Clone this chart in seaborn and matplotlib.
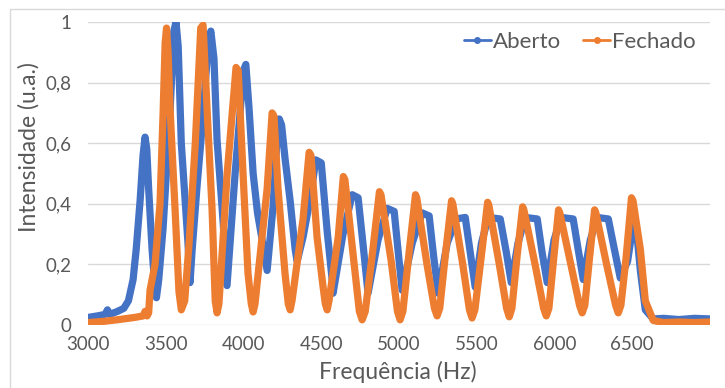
import matplotlib
matplotlib.use("Agg")
import matplotlib.pyplot as plt
import seaborn as sns
import pandas as pd
from matplotlib.lines import Line2D
from matplotlib.patches import Rectangle

# ---------------- data ----------------
series_names = ["Aberto", "Fechado"]

aberto_freq = [3000, 3060, 3110, 3125, 3140, 3190, 3230, 3260, 3290, 3310, 3335, 3354, 3367, 3378,
               3390, 3412, 3431, 3440, 3455, 3483, 3528, 3552, 3566, 3580, 3600, 3643, 3656, 3670, 3700,
               3733, 3775, 3790, 3810, 3830, 3869, 3894, 3946, 4000, 4015, 4035, 4062, 4090, 4120, 4152, 4190,
               4215, 4230, 4245, 4267, 4300, 4332, 4345, 4383, 4430, 4465, 4500, 4538, 4570, 4576, 4640,
               4699, 4737, 4770, 4801, 4865, 4924, 4969, 4995, 5020, 5085, 5149, 5194, 5222, 5252,
               5310, 5368, 5426, 5458, 5490, 5530, 5574, 5651, 5690, 5722, 5765, 5812, 5889, 5920,
               5953, 5997, 6043, 6120, 6152, 6185, 6230, 6275, 6346, 6385, 6423, 6470, 6505, 6530,
               6552, 6584, 6635, 6700, 6800, 6900, 7000]
aberto_val = [0.025, 0.03, 0.035, 0.05, 0.035, 0.045, 0.055, 0.08, 0.15, 0.25, 0.41, 0.56, 0.62, 0.58,
              0.45, 0.25, 0.12, 0.09, 0.15, 0.32, 0.71, 0.97, 1.0, 0.92, 0.6, 0.27, 0.14, 0.25, 0.45,
              0.65, 0.94, 0.97, 0.88, 0.61, 0.34, 0.13, 0.5, 0.84, 0.86, 0.72, 0.5, 0.37, 0.28, 0.18, 0.39,
              0.61, 0.68, 0.66, 0.55, 0.41, 0.25, 0.21, 0.29, 0.42, 0.545, 0.535, 0.31, 0.15, 0.105, 0.30,
              0.43, 0.42, 0.26, 0.105, 0.28, 0.385, 0.375, 0.24, 0.115, 0.27, 0.37, 0.36, 0.23, 0.105,
              0.27, 0.35, 0.355, 0.24, 0.125, 0.27, 0.355, 0.35, 0.24, 0.14, 0.27, 0.355, 0.35, 0.24,
              0.14, 0.28, 0.355, 0.35, 0.25, 0.15, 0.28, 0.355, 0.35, 0.25, 0.155, 0.21, 0.33, 0.3,
              0.18, 0.05, 0.02, 0.022, 0.018, 0.022, 0.02]

fechado_freq = [3000, 3100, 3200, 3300, 3355, 3367, 3380, 3390, 3399, 3431, 3463, 3483, 3496, 3505,
                3515, 3528, 3560, 3585, 3600, 3622, 3650, 3690, 3725, 3740, 3766, 3798, 3818, 3830, 3842,
                3895, 3952, 3966, 3997, 4029, 4050, 4062, 4074, 4152, 4184, 4196, 4222, 4267, 4288, 4300,
                4312, 4383, 4422, 4434, 4473, 4512, 4526, 4538, 4550, 4609, 4642, 4652, 4699, 4745, 4763,
                4783, 4830, 4874, 4884, 4950, 4990, 5007, 5025, 5065, 5106, 5114, 5180, 5228, 5245, 5262,
                5300, 5338, 5346, 5410, 5453, 5470, 5488, 5530, 5570, 5578, 5645, 5692, 5709, 5726, 5760,
                5795, 5803, 5875, 5930, 5947, 5964, 5995, 6026, 6034, 6105, 6161, 6178, 6195, 6225, 6258,
                6266, 6335, 6393, 6410, 6427, 6460, 6495, 6505, 6552, 6584, 6635, 6700, 6800, 6900, 7000]
fechado_val = [0.008, 0.012, 0.018, 0.025, 0.03, 0.045, 0.03, 0.04, 0.115, 0.2, 0.4, 0.7, 0.93, 0.98,
               0.9, 0.71, 0.38, 0.11, 0.05, 0.08, 0.27, 0.6, 0.98, 0.99, 0.71, 0.38, 0.08, 0.04, 0.07,
               0.5, 0.85, 0.84, 0.5, 0.17, 0.07, 0.043, 0.07, 0.45, 0.70, 0.69, 0.45, 0.17, 0.07, 0.05,
               0.08, 0.35, 0.57, 0.56, 0.29, 0.125, 0.07, 0.05, 0.08, 0.29, 0.49, 0.48, 0.26, 0.045, 0.017,
               0.045, 0.24, 0.44, 0.43, 0.21, 0.045, 0.017, 0.045, 0.24, 0.43, 0.42, 0.2, 0.055, 0.03, 0.055,
               0.24, 0.41, 0.40, 0.2, 0.05, 0.023, 0.05, 0.23, 0.405, 0.395, 0.2, 0.055, 0.027, 0.055, 0.23,
               0.39, 0.38, 0.2, 0.055, 0.03, 0.055, 0.22, 0.38, 0.37, 0.2, 0.065, 0.04, 0.065, 0.22, 0.38,
               0.37, 0.2, 0.065, 0.04, 0.065, 0.22, 0.42, 0.41, 0.25, 0.08, 0.015, 0.008, 0.01, 0.008, 0.01]

x_ticks = [3000, 3500, 4000, 4500, 5000, 5500, 6000, 6500]
y_ticks = [0, 0.2, 0.4, 0.6, 0.8, 1.0]
y_tick_labels = ["0", "0,2", "0,4", "0,6", "0,8", "1"]
x_label = "Frequência (Hz)"
y_label = "Intensidade (u.a.)"

colors = {"Aberto": "#4472C4", "Fechado": "#ED7D31"}

# ---------------- figure ----------------
sns.set_theme(style="white")
plt.rcParams["font.family"] = ["Lato", "DejaVu Sans"]
text_color = "#595959"
grid_color = "#D9D9D9"

fig = plt.figure(figsize=(7.25, 3.88), dpi=100)
ax = fig.add_axes([88 / 725, 1 - 325 / 388, (710 - 88) / 725, (325 - 22) / 388])

df_a = pd.DataFrame({"freq": aberto_freq, "val": aberto_val})
df_f = pd.DataFrame({"freq": fechado_freq, "val": fechado_val})

sns.lineplot(data=df_a, x="freq", y="val", ax=ax, color=colors["Aberto"], linewidth=5.2,
             sort=False, estimator=None, solid_joinstyle="round", solid_capstyle="round", zorder=3)
sns.lineplot(data=df_f, x="freq", y="val", ax=ax, color=colors["Fechado"], linewidth=5.2,
             sort=False, estimator=None, solid_joinstyle="round", solid_capstyle="round", zorder=4)

ax.set_xlim(3000, 7000)
ax.set_ylim(0, 1.0)
ax.set_xticks(x_ticks)
ax.set_xticklabels([str(t) for t in x_ticks])
ax.set_yticks(y_ticks)
ax.set_yticklabels(y_tick_labels)
ax.tick_params(axis="both", length=0, labelsize=13.5, colors=text_color)
ax.tick_params(axis="y", pad=12)
ax.tick_params(axis="x", pad=8)
ax.yaxis.grid(True, color=grid_color, linewidth=1)
ax.xaxis.grid(False)
for s in ax.spines.values():
    s.set_visible(False)

ax.set_xlabel(x_label, fontsize=16.5, color=text_color)
ax.set_ylabel(y_label, fontsize=16.5, color=text_color)
ax.xaxis.set_label_coords(0.498, -0.118)
ax.yaxis.set_label_coords(-0.078, 0.587)

handles = [Line2D([0], [0], color=colors[n], lw=2, marker="o", markersize=4) for n in series_names]
fig.legend(handles, series_names, loc="center", bbox_to_anchor=(580 / 725, 1 - 42 / 388),
           ncol=2, frameon=False, fontsize=16, handlelength=1.2, handletextpad=0.1,
           columnspacing=1.0, labelcolor=text_color)

fig.patches.append(Rectangle((10 / 725, -0.05), 1.2, 1 - 9 / 388 + 0.05, transform=fig.transFigure,
                             fill=False, edgecolor=grid_color, linewidth=1))

fig.savefig("out.png", dpi=100)
